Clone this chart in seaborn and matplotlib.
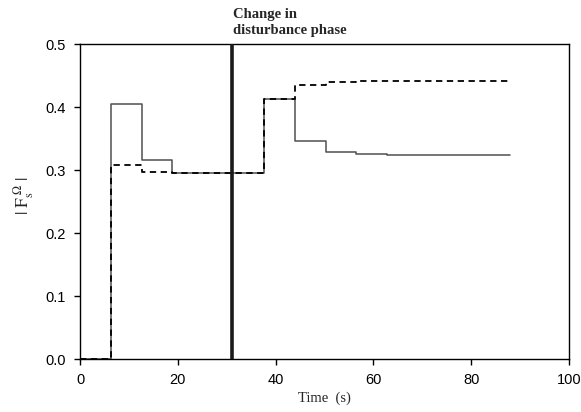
import numpy as np
import pandas as pd
import matplotlib
matplotlib.use("Agg")
import matplotlib.pyplot as plt
import seaborn as sns

# Data
time_s = [0.0, 6.3, 12.6, 18.9, 25.1, 31.4, 37.7, 44.0, 50.3, 56.5, 62.8, 69.1, 75.4, 81.7, 88.0]
solid_vals = [0.0, 0.405, 0.317, 0.295, 0.295, 0.295, 0.413, 0.347, 0.329, 0.326, 0.325, 0.325, 0.325, 0.325, 0.325]
dashed_vals = [0.0, 0.308, 0.297, 0.295, 0.295, 0.295, 0.413, 0.436, 0.440, 0.442, 0.442, 0.442, 0.442, 0.442, 0.442]
phase_change_time = 31.0
annotation = "Change in\ndisturbance phase"
x_ticks = [0, 20, 40, 60, 80, 100]
y_ticks = [0.0, 0.1, 0.2, 0.3, 0.4, 0.5]

sns.set_theme(style="ticks")
plt.rcParams['font.family'] = ['Liberation Sans', 'DejaVu Sans']
plt.rcParams['mathtext.fontset'] = 'stix'

df_solid = pd.DataFrame({"t": time_s, "v": solid_vals})
df_dashed = pd.DataFrame({"t": time_s, "v": dashed_vals})

fig = plt.figure(figsize=(5.81, 4.12), dpi=100)
ax = fig.add_axes([0.1377, 0.128, 0.9793 - 0.1377, 0.8925 - 0.128])

sns.lineplot(data=df_solid, x="t", y="v", ax=ax, color="#505050", lw=1.1,
             drawstyle="steps-post", estimator=None, sort=False)
sns.lineplot(data=df_dashed, x="t", y="v", ax=ax, color="black", lw=1.3,
             drawstyle="steps-post", estimator=None, sort=False,
             linestyle=(0, (3.5, 2.5)))
ax.axvline(phase_change_time, color="#1a1a1a", lw=2.6, zorder=5)

ax.set_xlim(0, 100)
ax.set_ylim(0, 0.5)
ax.set_xticks(x_ticks)
ax.set_yticks(y_ticks)
ax.set_xticklabels([str(v) for v in x_ticks])
ax.set_yticklabels([f"{v:.1f}" for v in y_ticks])
ax.tick_params(direction="out", length=4, width=1, labelsize=10.5, colors="black", pad=6)

for sp in ax.spines.values():
    sp.set_visible(True)
    sp.set_linewidth(1.0)
    sp.set_color("black")

ax.set_xlabel("Time  (s)", family="Liberation Serif", fontsize=10.5, labelpad=3)
ax.set_ylabel(r"$|\ \mathrm{F}_{\mathrm{s}}^{\ \Omega}\ |$", fontsize=12.5)
ax.yaxis.set_label_coords(-0.09, 0.52)

ax.text(phase_change_time + 0.2, 0.5 + 0.012, annotation, family="Liberation Serif",
        fontweight="bold", fontsize=10.5, ha="left", va="bottom", linespacing=1.25)

fig.savefig("out.png", dpi=100)
